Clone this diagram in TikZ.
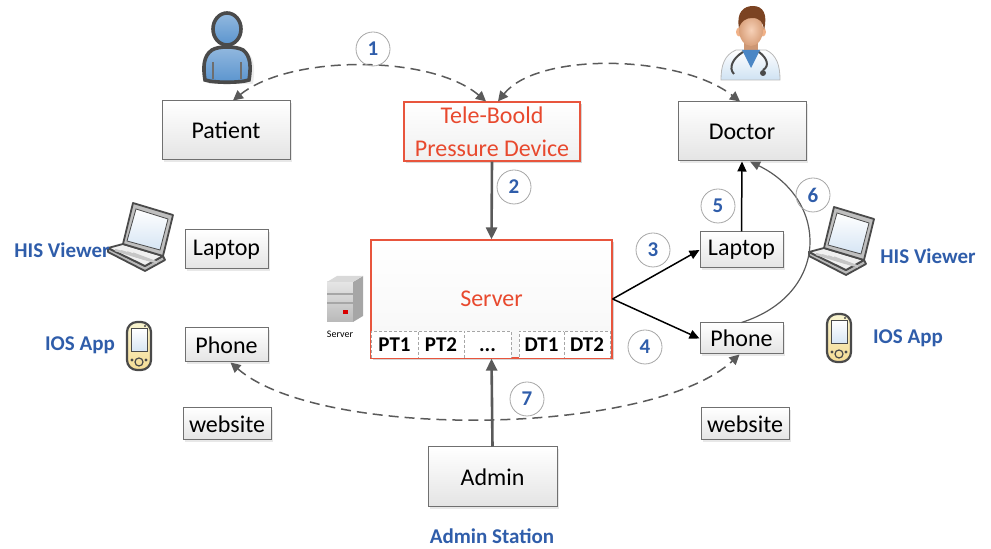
\documentclass[tikz,border=0pt]{standalone}
\usepackage{fontspec}
\setmainfont{Carlito}
\usetikzlibrary{arrows.meta,shadows}

\definecolor{boxline}{HTML}{707070}
\definecolor{boxfill}{HTML}{E4E4E4}
\definecolor{redline}{HTML}{E8553D}
\definecolor{redtext}{HTML}{E8492E}
\definecolor{bluetext}{HTML}{2F5DAA}
\definecolor{arcgray}{HTML}{5A5A5A}
\definecolor{iconline}{HTML}{4A4A4A}
\definecolor{personblue}{HTML}{5A94CE}
\definecolor{skin}{HTML}{F1B288}
\definecolor{hair}{HTML}{7B4322}
\definecolor{coat}{HTML}{CFE2F3}
\definecolor{shirt}{HTML}{4A86C5}
\definecolor{phonebody}{HTML}{F4EDB0}
\definecolor{screenblue}{HTML}{D6E5F4}

\tikzset{
  box/.style={draw=boxline, line width=0.5pt, top color=white, bottom color=boxfill,
    drop shadow={shadow xshift=1.2pt, shadow yshift=-1.2pt, opacity=0.18},
    inner sep=0pt, font=\fontsize{12}{14}\selectfont},
  bigbox/.style={box, minimum width=64pt, minimum height=29.5pt},
  smallbox/.style={box, minimum width=41.5pt},
  redbox/.style={box, draw=redline, text=redtext, line width=0.6pt},
  cell/.style={draw=gray!70, dash pattern=on 1.5pt off 1pt, line width=0.4pt, fill=white,
    minimum height=13.5pt, inner sep=0pt, text height=7pt, text depth=0pt,
    font=\fontsize{10.5}{12}\selectfont\bfseries},
  numcirc/.style={circle, draw=gray!70, line width=0.4pt, minimum size=17pt, inner sep=0pt,
    font=\fontsize{10.5}{12}\selectfont\bfseries, text=bluetext},
  bluelabel/.style={font=\fontsize{10.5}{12}\selectfont\bfseries, text=bluetext, inner sep=0pt},
  dasharc/.style={draw=arcgray, line width=0.75pt, dash pattern=on 5pt off 3pt,
    {Triangle[length=5pt,width=5pt]}-{Triangle[length=5pt,width=5pt]}},
  grayarrow/.style={draw=arcgray, line width=1.3pt, -{Triangle[length=6pt,width=5.5pt]}},
  blackarrow/.style={draw=black, line width=0.75pt, -{Triangle[length=5pt,width=4.5pt]}},
  curvearrow/.style={draw=arcgray, line width=0.6pt, -{Triangle[length=5pt,width=4.5pt]}},
  % notebook computer, drawn from its top-left corner
  laptop/.pic={
    \fill[gray!35] (5,51) -- (20,47) -- (60,59) -- (42,70) -- cycle;
    \filldraw[fill=gray!55, draw=iconline, line width=0.9pt, line join=round]
      (3,48) -- (3,52) -- (40,71) -- (60,60) -- (58,56) -- (40,66) -- cycle;
    \filldraw[fill=gray!12, draw=iconline, line width=0.9pt, line join=round]
      (3,48) -- (18,44) -- (58,56) -- (40,66) -- cycle;
    \foreach \i in {0,1,2,3} {
      \draw[gray!45, line width=1.2pt] (10+6*\i,50+1.2*\i) -- (40+4*\i,59+1.2*\i);
    }
    \filldraw[fill=gray!50, draw=iconline, line width=0.9pt, line join=round]
      (28,3) -- (68,15) -- (58,56) -- (18,44) -- cycle;
    \shade[top color=white, bottom color=screenblue, draw=iconline, line width=0.4pt]
      (31,9) -- (63,19) -- (55,50) -- (22,41) -- cycle;
  },
  % handheld device
  handset/.pic={
    \shadedraw[top color=phonebody!60!white, bottom color=phonebody!85!orange,
      draw=iconline, line width=1.1pt, rounded corners=5pt] (2,2) rectangle (26,50);
    \shade[top color=white, bottom color=screenblue, draw=iconline, line width=0.5pt]
      (6,9) rectangle (22,32);
    \draw[iconline, line width=0.6pt] (14,42) circle [radius=4];
    \fill[iconline] (7,40) circle [radius=1.6] (21,40) circle [radius=1.6] (20,6) circle [radius=1.2];
  }
}

\begin{document}
\begin{tikzpicture}[x=0.5pt, y=-0.5pt]
\useasboundingbox (0,0) rectangle (991,549);

% ---------- people ----------
% patient figure
\fill[gray!25, opacity=0.6] (209,84) .. controls (207,70) and (207,58) .. (216,52) .. controls (222,48) and (240,48) .. (247,52) .. controls (255,58) and (255,70) .. (253,84) -- cycle;
\shadedraw[top color=personblue!65!white, bottom color=personblue, draw=iconline, line width=1.8pt]
  (205,80) .. controls (203,68) and (203,56) .. (212,50) .. controls (218,46) and (236,46) .. (243,50)
  .. controls (251,56) and (251,68) .. (249,80) .. controls (240,83) and (214,83) .. (205,80) -- cycle;
\draw[iconline!80, line width=0.6pt] (213,62) -- (213,79) (241,62) -- (241,79);
\shadedraw[top color=personblue!65!white, bottom color=personblue, draw=iconline, line width=1.8pt]
  (227,29) ellipse [x radius=14, y radius=16];

% doctor figure
\shadedraw[top color=white, bottom color=coat, draw=gray!55, line width=0.4pt]
  (721,80) .. controls (721,66) and (724,55) .. (736,50) -- (766,50) .. controls (777,55) and (780,66) .. (780,80) -- cycle;
\fill[skin!85!black] (744,38) rectangle (758,52);
\fill[shirt] (742,50) -- (751,68) -- (760,50) -- cycle;
\fill[skin] (739,32) ellipse [x radius=3, y radius=4.5];
\fill[skin] (763,32) ellipse [x radius=3, y radius=4.5];
\shade[inner color=skin!60!white, outer color=skin!90!black] (751,30) ellipse [x radius=12, y radius=16];
\fill[hair] (739,28) .. controls (736,12) and (744,6) .. (753,6) .. controls (763,6) and (768,14) .. (764,30)
  .. controls (763,22) and (760,18) .. (752,18) .. controls (746,18) and (741,21) .. (739,28) -- cycle;
\draw[iconline, line width=1pt] (743,52) .. controls (733,58) and (728,68) .. (734,74);
\draw[iconline, line width=1pt] (759,52) .. controls (767,58) and (770,66) .. (763,70);
\fill[iconline] (763,73) circle [radius=3];

% ---------- devices ----------
\pic at (105,200) {laptop};
\pic at (806,204) {laptop};
\pic at (125,320) {handset};
\pic at (825,312) {handset};

% server tower
\shade[top color=gray!20, bottom color=gray!55] (327,282) rectangle (353,322);
\fill[gray!70] (353,282) -- (363,276) -- (363,316) -- (353,322) -- cycle;
\fill[gray!30] (327,282) -- (337,276) -- (363,276) -- (353,282) -- cycle;
\draw[gray!70, line width=0.8pt] (327,294) -- (353,294) (327,303) -- (353,303);
\fill[red!85!black] (343,310) rectangle (348,314);
\node[font=\fontsize{5}{6}\selectfont, inner sep=0pt] (srvlbl) at (340,334) {Server};

% ---------- boxes ----------
\node[bigbox] (pat) at (226,130.5) {Patient};
\node[bigbox, redbox, bottom color=gray!12, minimum width=88pt, align=center, font=\fontsize{12}{16.5}\selectfont] (dev) at (492,131.5) {Tele-Boold\\Pressure Device};
\node[bigbox] (doc) at (742,131.5) {Doctor};

\node[smallbox, minimum height=19.5pt] (llap) at (226.5,249.5) {Laptop};
\node[smallbox, minimum height=17pt] (lph) at (226.5,345) {Phone};
\node[smallbox, minimum width=44pt, minimum height=16pt] (lweb) at (227,424) {website};

\node[box, redbox, bottom color=gray!7, minimum width=120.5pt, minimum height=59pt, text depth=0pt] (srv) at (491.5,299) {Server};
\node[cell, minimum width=23.5pt] (pt1) at (394.5,344.5) {PT1};
\node[cell, minimum width=23pt] (pt2) at (441,344.5) {PT2};
\node[cell, minimum width=23.5pt] (ptn) at (487.5,344.5) {{.}{.}{.}};
\node[cell, minimum width=22.5pt] (dt1) at (541.5,344.5) {DT1};
\node[cell, minimum width=23pt] (dt2) at (587,344.5) {DT2};
\draw[redline, line width=0.6pt] (srv.south west) rectangle (srv.north east);

\node[smallbox, minimum height=18pt] (rlap) at (741.5,250) {Laptop};
\node[smallbox, minimum height=15.5pt] (rph) at (741.5,338.5) {Phone};
\node[smallbox, minimum width=44pt, minimum height=16pt] (rweb) at (745,424) {website};

\node[bigbox, minimum width=64.5pt, minimum height=30pt] (adm) at (492.5,477) {Admin};

% ---------- labels ----------
\node[bluelabel] (lhis) at (62,250) {HIS Viewer};
\node[bluelabel] (lios) at (80,345) {IOS App};
\node[bluelabel] (rhis) at (928,256) {HIS Viewer};
\node[bluelabel] (rios) at (908,338) {IOS App};
\node[bluelabel] (station) at (492,536) {Admin Station};

% ---------- connectors ----------
\draw[dasharc] ([xshift=-3pt]dev.north) .. controls +(-55,-47) and +(57,-46) .. ([xshift=3.5pt]pat.north);
\draw[dasharc] ([xshift=3pt]dev.north) .. controls +(40,-50) and +(-60,-47) .. ([xshift=-1pt]doc.north);
\draw[grayarrow] (dev.south) -- (srv.north);
\draw[blackarrow] (srv.east) -- (rlap.west);
\draw[blackarrow] (srv.east) -- (rph.west);
\draw[blackarrow] (rlap.north) -- (doc.south);
\draw[curvearrow] (rph.north) .. controls +(88,-28) and +(80,39) .. ([xshift=4pt]doc.south);
\draw[grayarrow] (adm.north) -- (srv.south);
\draw[dasharc] ([xshift=2pt]lph.south) .. controls +(90,78) and +(-89,82) .. ([xshift=-1pt]rph.south);

% ---------- step numbers ----------
\node[numcirc] (n1) at (373,49) {1};
\node[numcirc] (n2) at (514,187) {2};
\node[numcirc] (n3) at (653,250) {3};
\node[numcirc] (n4) at (645,347) {4};
\node[numcirc] (n5) at (718,206) {5};
\node[numcirc] (n6) at (813,195) {6};
\node[numcirc] (n7) at (527,399) {7};
\end{tikzpicture}
\end{document}
